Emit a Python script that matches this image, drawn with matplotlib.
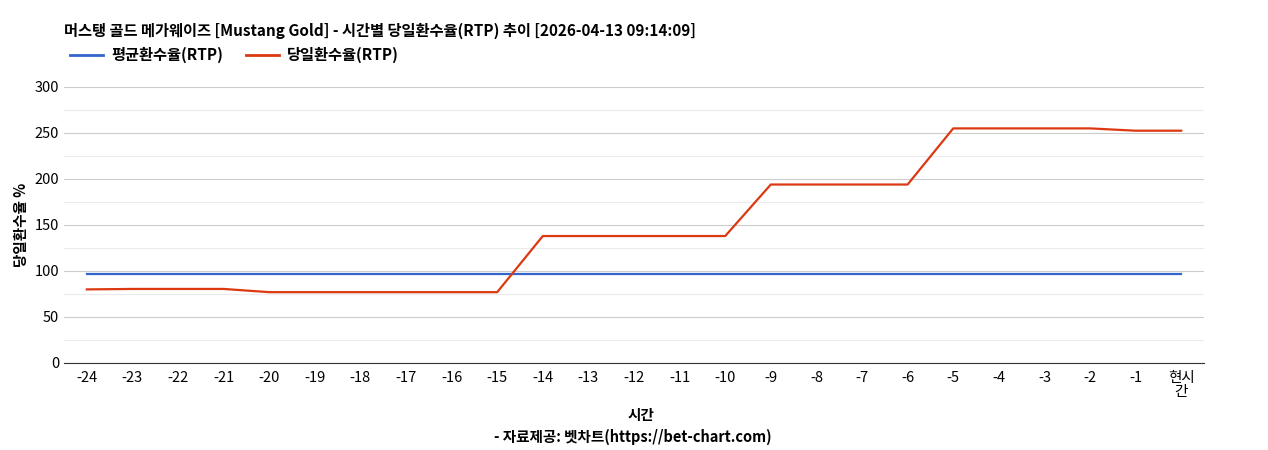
import matplotlib
matplotlib.use("Agg")
import matplotlib.pyplot as plt
from matplotlib.lines import Line2D

plt.rcParams['font.family'] = ['Noto Sans CJK KR', 'DejaVu Sans']

labels = [str(i) for i in range(-24, 0)] + ['현시\n간']
avg_rtp = [97] * 25
day_rtp = [80, 80.5, 80.5, 80.5, 77, 77, 77, 77, 77, 77, 138, 138, 138, 138, 138,
           194, 194, 194, 194, 255, 255, 255, 255, 252.5, 252.5]

fig = plt.figure(figsize=(12.68, 4.5), dpi=100)
ax = fig.add_axes([64/1268, 1-363/450, 1140/1268, 276/450])
x = list(range(len(labels)))
ax.plot(x, avg_rtp, color='#3366cc', lw=1.6)
ax.plot(x, day_rtp, color='#dc3912', lw=1.6)
ax.set_xlim(-0.5, 24.5)
ax.set_ylim(0, 300)
ax.set_yticks(range(0, 301, 50))
ax.set_yticks(range(25, 300, 50), minor=True)
ax.grid(axis='y', which='major', color='#cccccc', lw=0.8)
ax.grid(axis='y', which='minor', color='#ebebeb', lw=0.8)
ax.set_axisbelow(True)
ax.set_xticks(x)
ax.set_xticklabels(labels, fontsize=10.5, linespacing=1.0)
ax.tick_params(axis='y', which='both', labelsize=10.5, length=0)
ax.tick_params(axis='x', length=0, pad=6)
for s in ['top', 'right', 'left']:
    ax.spines[s].set_visible(False)
ax.spines['bottom'].set_color('#333333')
ax.set_ylabel('당일환수율 %', fontsize=10.5, fontweight='bold', labelpad=4)
fig.text(641/1268, 1-415/450, '시간', ha='center', va='center', fontsize=10.5, fontweight='bold')
fig.text(633/1268, 1-437/450, '- 자료제공: 벳차트(https://bet-chart.com)', ha='center', va='center', fontsize=10.5, fontweight='bold')
fig.text(64/1268, 1-31/450, '머스탱 골드 메가웨이즈 [Mustang Gold] - 시간별 당일환수율(RTP) 추이 [2026-04-13 09:14:09]',
         ha='left', va='center', fontsize=11, fontweight='bold')
handles = [Line2D([], [], color='#3366cc', lw=2), Line2D([], [], color='#dc3912', lw=2)]
fig.legend(handles, ['평균환수율(RTP)', '당일환수율(RTP)'], loc='center left',
           bbox_to_anchor=(56/1268, 1-55/450), ncol=2, frameon=False,
           prop={'size': 11, 'weight': 'bold'}, handlelength=2.2, columnspacing=1.5, handletextpad=0.5)
fig.savefig('out.png', dpi=100)
